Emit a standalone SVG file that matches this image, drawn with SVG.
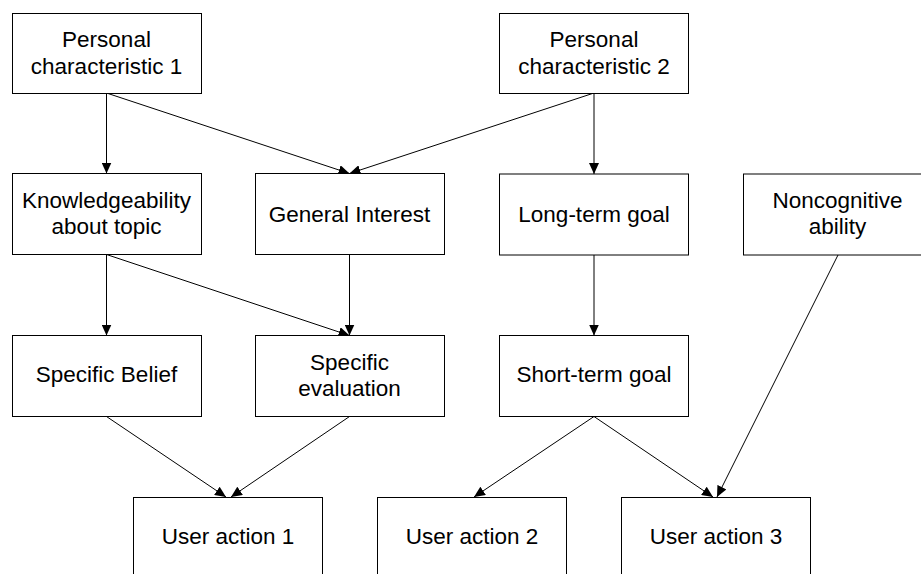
<svg xmlns="http://www.w3.org/2000/svg" width="921" height="574" viewBox="0 0 921 574">
  <style>
    .box { fill: #ffffff; stroke: #000000; stroke-width: 1; }
    .lbl { font-family: "Liberation Sans", Arial, sans-serif; font-size: 22.5px; fill: #000000; text-anchor: middle; }
    .edge { fill: none; stroke: #000000; stroke-width: 1; marker-end: url(#arrow); }
  </style>
  <defs>
    <marker id="arrow" markerUnits="userSpaceOnUse" markerWidth="11" markerHeight="10" refX="11" refY="5" orient="auto">
      <path d="M0,0 L11,5 L0,10 Z" fill="#000000"/>
    </marker>
  </defs>
  <rect width="921" height="574" fill="#ffffff"/>

  <!-- connectors -->
  <g id="connectors">
    <line class="edge" x1="106.5" y1="93" x2="106.5" y2="173.5"/>
    <line class="edge" x1="106.5" y1="93" x2="349.5" y2="173.5"/>
    <line class="edge" x1="594" y1="93" x2="349.5" y2="173.5"/>
    <line class="edge" x1="594" y1="93" x2="594" y2="174"/>
    <line class="edge" x1="106.5" y1="254.5" x2="106.5" y2="335.5"/>
    <line class="edge" x1="106.5" y1="254.5" x2="349.5" y2="335.5"/>
    <line class="edge" x1="349.5" y1="254.5" x2="349.5" y2="335.5"/>
    <line class="edge" x1="594" y1="255" x2="594" y2="335.5"/>
    <line class="edge" x1="106.5" y1="416.5" x2="226" y2="497"/>
    <line class="edge" x1="349.5" y1="416.5" x2="231" y2="497"/>
    <line class="edge" x1="594" y1="416.5" x2="474" y2="497"/>
    <line class="edge" x1="594" y1="416.5" x2="713" y2="497"/>
    <line class="edge" x1="838" y1="255" x2="717" y2="497"/>
  </g>

  <!-- row 1 -->
  <g id="pc1">
    <rect class="box" x="12.5" y="13.5" width="189" height="80"/>
    <text class="lbl" x="106.5" y="47">Personal</text>
    <text class="lbl" x="106.5" y="74">characteristic 1</text>
  </g>
  <g id="pc2">
    <rect class="box" x="499.5" y="13.5" width="189" height="80"/>
    <text class="lbl" x="594" y="47">Personal</text>
    <text class="lbl" x="594" y="74">characteristic 2</text>
  </g>

  <!-- row 2 -->
  <g id="knowledge">
    <rect class="box" x="12.5" y="173.5" width="189" height="81"/>
    <text class="lbl" x="106.5" y="208">Knowledgeability</text>
    <text class="lbl" x="106.5" y="234">about topic</text>
  </g>
  <g id="interest">
    <rect class="box" x="255.5" y="173.5" width="189" height="81"/>
    <text class="lbl" x="349.5" y="221.5">General Interest</text>
  </g>
  <g id="longterm">
    <rect class="box" x="499.5" y="174" width="189" height="81"/>
    <text class="lbl" x="594" y="221.5">Long-term goal</text>
  </g>
  <g id="noncognitive">
    <rect class="box" x="743.5" y="174" width="189" height="81"/>
    <text class="lbl" x="837.5" y="208">Noncognitive</text>
    <text class="lbl" x="837.5" y="234">ability</text>
  </g>

  <!-- row 3 -->
  <g id="belief">
    <rect class="box" x="12.5" y="335.5" width="189" height="81"/>
    <text class="lbl" x="106.5" y="382">Specific Belief</text>
  </g>
  <g id="evaluation">
    <rect class="box" x="255.5" y="335.5" width="189" height="81"/>
    <text class="lbl" x="349.5" y="370">Specific</text>
    <text class="lbl" x="349.5" y="396">evaluation</text>
  </g>
  <g id="shortterm">
    <rect class="box" x="499.5" y="335.5" width="189" height="81"/>
    <text class="lbl" x="594" y="382">Short-term goal</text>
  </g>

  <!-- row 4 -->
  <g id="action1">
    <rect class="box" x="133.5" y="497.5" width="189" height="90"/>
    <text class="lbl" x="228" y="544">User action 1</text>
  </g>
  <g id="action2">
    <rect class="box" x="377.5" y="497.5" width="189" height="90"/>
    <text class="lbl" x="472" y="544">User action 2</text>
  </g>
  <g id="action3">
    <rect class="box" x="621.5" y="497.5" width="189" height="90"/>
    <text class="lbl" x="716" y="544">User action 3</text>
  </g>
</svg>
